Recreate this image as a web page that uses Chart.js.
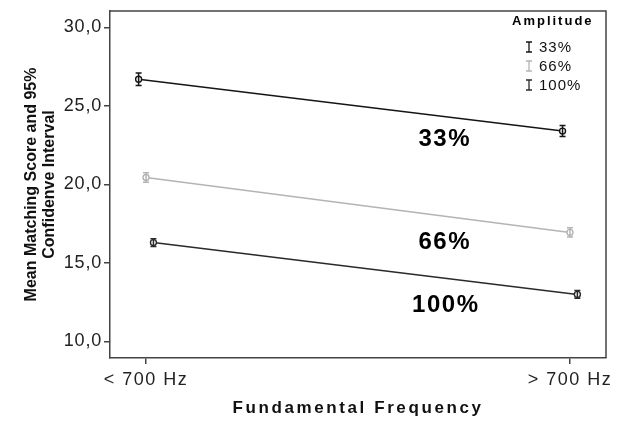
<!DOCTYPE html>
<html>
<head>
<meta charset="utf-8">
<script src="https://cdn.jsdelivr.net/npm/chart.js@4"></script>
<style>
  html, body { margin: 0; padding: 0; background: #fff; }
  #wrap { width: 628px; height: 421px; }
</style>
</head>
<body>
<div id="wrap"><canvas id="chart" width="628" height="421"></canvas></div>
<script>
// categories on the x axis
const categories = ['< 700 Hz', '> 700 Hz'];
// amplitude groups
const amplitudes = ['33%', '66%', '100%'];
// mean matching score per group (< 700 Hz, > 700 Hz)
const mean33 = [26.7, 23.4];
const mean66 = [20.45, 16.95];
const mean100 = [16.3, 13.0];
// half width of the 95% CI
const ci33 = [0.4, 0.35];
const ci66 = [0.3, 0.3];
const ci100 = [0.25, 0.25];
const yTicks = [10, 15, 20, 25, 30];

const colors = ['#151515', '#b4b4b4', '#2a2a2a'];
const dodge = [-0.0175, 0, 0.0175];
const fontFam = '"Liberation Sans", Arial, sans-serif';

function makeSet(i, means, cis) {
    return {
        label: amplitudes[i],
        data: means.map((m, c) => ({ x: c + dodge[i], y: m, ci: cis[c] })),
        showLine: true,
        borderColor: colors[i],
        borderWidth: 1.5,
        pointRadius: 3,
        pointBorderWidth: 1.4,
        pointBackgroundColor: '#fff',
        pointBorderColor: colors[i]
    };
}

// wrap a scale draw step so its text gets some letter spacing
function spaced(scale, key, px) {
    const orig = scale[key];
    scale[key] = function (...args) {
        this.ctx.save();
        this.ctx.letterSpacing = px;
        orig.apply(this, args);
        this.ctx.restore();
    };
}

// error bars drawn through the scales
const errorBars = {
    id: 'errorBars',
    afterDatasetsDraw(chart) {
        const { ctx, scales: { x, y } } = chart;
        ctx.save();
        chart.data.datasets.forEach(ds => {
            ctx.strokeStyle = ds.borderColor;
            ctx.lineWidth = 1.5;
            ds.data.forEach(p => {
                const px = x.getPixelForValue(p.x);
                const top = y.getPixelForValue(p.y + p.ci);
                const bot = y.getPixelForValue(p.y - p.ci);
                ctx.beginPath();
                ctx.moveTo(px, top); ctx.lineTo(px, bot);
                ctx.moveTo(px - 3, top); ctx.lineTo(px + 3, top);
                ctx.moveTo(px - 3, bot); ctx.lineTo(px + 3, bot);
                ctx.stroke();
            });
        });
        ctx.restore();
    }
};

// top + right frame, group labels and the legend
const frame = {
    id: 'frame',
    afterDraw(chart) {
        const { ctx, chartArea: a, scales: { x, y } } = chart;
        ctx.save();
        ctx.strokeStyle = '#444';
        ctx.lineWidth = 1.5;
        ctx.beginPath();
        ctx.moveTo(a.left, a.top); ctx.lineTo(a.right, a.top); ctx.lineTo(a.right, a.bottom);
        ctx.stroke();

        // series labels in the plot
        ctx.fillStyle = '#000';
        ctx.font = 'bold 24px ' + fontFam;
        ctx.letterSpacing = '1.5px';
        ctx.textAlign = 'center';
        ctx.textBaseline = 'middle';
        const lx = x.getPixelForValue(0.7) + 2;
        ctx.fillText('33%', lx, y.getPixelForValue(22.9));
        ctx.fillText('66%', lx, y.getPixelForValue(16.3));
        ctx.fillText('100%', lx + 1, y.getPixelForValue(12.3));

        // legend
        ctx.textAlign = 'left';
        ctx.font = 'bold 13px ' + fontFam;
        ctx.letterSpacing = '2px';
        ctx.fillText('Amplitude', a.right - 94, a.top + 10);
        ctx.font = '15px ' + fontFam;
        ctx.letterSpacing = '1px';
        amplitudes.forEach((lab, i) => {
            const cy = a.top + 36 + i * 19;
            const cx = a.right - 77;
            ctx.strokeStyle = colors[i];
            ctx.lineWidth = 1.3;
            ctx.beginPath();
            ctx.moveTo(cx, cy - 5); ctx.lineTo(cx, cy + 5);
            ctx.moveTo(cx - 3, cy - 5); ctx.lineTo(cx + 3, cy - 5);
            ctx.moveTo(cx - 3, cy + 5); ctx.lineTo(cx + 3, cy + 5);
            ctx.stroke();
            ctx.fillStyle = '#111';
            ctx.fillText(lab, cx + 10, cy + 1);
        });
        ctx.restore();
    }
};

new Chart(document.getElementById('chart'), {
    type: 'scatter',
    data: {
        datasets: [
            makeSet(0, mean33, ci33),
            makeSet(1, mean66, ci66),
            makeSet(2, mean100, ci100)
        ]
    },
    options: {
        responsive: false,
        animation: false,
        layout: { padding: { top: 9, right: 22, left: 0, bottom: 0 } },
        plugins: { legend: { display: false }, tooltip: { enabled: false } },
        scales: {
            x: {
                type: 'linear',
                min: -0.085,
                max: 1.085,
                afterBuildTicks: s => { s.ticks = categories.map((c, i) => ({ value: i })); },
                afterFit: s => {
                    s.height = 421 - 358;
                    if (!s._spaced) {
                        s._spaced = true;
                        spaced(s, 'drawTitle', '2.6px');
                        spaced(s, 'drawLabels', '1.5px');
                    }
                },
                ticks: {
                    color: '#222',
                    font: { family: fontFam, size: 18 },
                    padding: 5,
                    maxRotation: 0,
                    callback: v => categories[v]
                },
                grid: { display: true, drawOnChartArea: false, drawTicks: true, tickLength: 6, color: '#444', lineWidth: 1.5 },
                border: { display: true, color: '#444', width: 1.5 },
                title: {
                    display: true,
                    text: 'Fundamental Frequency',
                    color: '#111',
                    font: { family: fontFam, size: 17, weight: 'bold' },
                    padding: { top: 0, bottom: 2 }
                }
            },
            y: {
                min: 8.95,
                max: 31.05,
                afterBuildTicks: s => { s.ticks = yTicks.map(v => ({ value: v })); },
                afterFit: s => {
                    s.width = 110;
                    if (!s._spaced) {
                        s._spaced = true;
                        spaced(s, 'drawLabels', '0.8px');
                    }
                },
                ticks: {
                    color: '#222',
                    font: { family: fontFam, size: 18, lineHeight: 1 },
                    padding: 2,
                    callback: v => v.toFixed(1).replace('.', ',')
                },
                grid: { display: true, drawOnChartArea: false, drawTicks: true, tickLength: 6, color: '#444', lineWidth: 1.5 },
                border: { display: true, color: '#444', width: 1.5 },
                title: {
                    display: true,
                    text: ['Mean Matching Score and 95%', 'Confidenve Interval'],
                    color: '#111',
                    font: { family: fontFam, size: 16, weight: 'bold', lineHeight: 1.125 },
                    padding: { top: 23, bottom: 0 }
                }
            }
        }
    },
    plugins: [errorBars, frame]
});
</script>
</body>
</html>
